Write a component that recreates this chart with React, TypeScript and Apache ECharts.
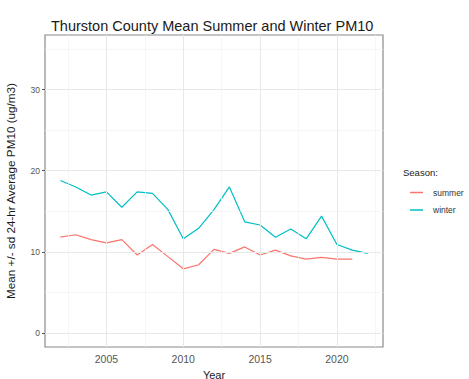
import React, { useEffect, useRef } from "react";
import * as echarts from "echarts";

// Mean seasonal PM10 by year
const winterYears = [2002, 2003, 2004, 2005, 2006, 2007, 2008, 2009, 2010, 2011, 2012, 2013, 2014, 2015, 2016, 2017, 2018, 2019, 2020, 2021, 2022];
const winterPM10 = [18.8, 18.0, 17.0, 17.4, 15.5, 17.4, 17.2, 15.2, 11.6, 12.9, 15.2, 18.0, 13.7, 13.3, 11.8, 12.8, 11.6, 14.4, 10.9, 10.2, 9.8];
const summerYears = [2002, 2003, 2004, 2005, 2006, 2007, 2008, 2009, 2010, 2011, 2012, 2013, 2014, 2015, 2016, 2017, 2018, 2019, 2020, 2021];
const summerPM10 = [11.8, 12.1, 11.5, 11.1, 11.5, 9.6, 10.9, 9.4, 7.9, 8.4, 10.3, 9.8, 10.6, 9.6, 10.2, 9.5, 9.1, 9.3, 9.1, 9.1];

// Axis breaks
const xMajor = [2005, 2010, 2015, 2020];
const xMinor = [2002.5, 2007.5, 2012.5, 2017.5, 2022.5];
const yMajor = [0, 10, 20, 30];
const yMinor = [5, 15, 25, 35];

const SUMMER = "#F8766D";
const WINTER = "#00BFC4";
const FONT = "'Liberation Sans', Arial, sans-serif";

export default function App() {
  const ref = useRef<HTMLDivElement>(null);

  useEffect(() => {
    if (!ref.current) return;
    const chart = echarts.init(ref.current, undefined, { renderer: "svg" });

    const gridLine = (axis: "xAxis" | "yAxis", v: number, major: boolean) => ({
      [axis]: v,
      lineStyle: { color: major ? "#e8e8e8" : "#f2f2f2", width: major ? 1 : 0.7, type: "solid" },
    });

    chart.setOption({
      animation: false,
      textStyle: { fontFamily: FONT },
      title: {
        text: "Thurston County Mean Summer and Winter PM10",
        left: 46,
        top: 13,
        textStyle: { fontSize: 14.5, fontWeight: "normal", color: "#1a1a1a", fontFamily: FONT },
      },
      grid: {
        left: 45,
        top: 35,
        right: 86,
        bottom: 32,
        containLabel: false,
        outerBoundsMode: "none",
        show: true,
        borderColor: "#8a8a8a",
        borderWidth: 1.2,
        backgroundColor: "#fff",
      },
      legend: {
        orient: "vertical",
        left: 405,
        top: 183,
        itemGap: 8.5,
        itemWidth: 13,
        itemHeight: 1.5,
        icon: "rect",
        data: ["summer", "winter"],
        textStyle: { fontSize: 8.5, color: "#333", fontFamily: FONT, padding: [0, 0, 0, 5] },
      },
      graphic: [
        {
          type: "text",
          left: 403,
          top: 167,
          style: { text: "Season:", fontSize: 9.5, fill: "#222", fontFamily: FONT },
        },
      ],
      xAxis: {
        type: "value",
        min: 2001,
        max: 2023,
        name: "Year",
        nameLocation: "middle",
        nameGap: 22,
        nameTextStyle: { fontSize: 11, color: "#1a1a1a" },
        axisLine: { show: false },
        splitLine: { show: false },
        axisTick: { show: true, customValues: xMajor, length: 3, lineStyle: { color: "#555" } },
        axisLabel: {
          customValues: xMajor,
          fontSize: 10.5,
          color: "#555",
          margin: 6,
          formatter: (v: number) => String(v),
        },
      },
      yAxis: {
        type: "value",
        min: -1.75,
        max: 36.75,
        name: "Mean +/- sd 24-hr Average PM10 (ug/m3)",
        nameLocation: "middle",
        nameGap: 29,
        nameTextStyle: { fontSize: 11.7, color: "#1a1a1a" },
        axisLine: { show: false },
        splitLine: { show: false },
        axisTick: { show: true, customValues: yMajor, length: 3, lineStyle: { color: "#555" } },
        axisLabel: { customValues: yMajor, fontSize: 8.5, color: "#555", margin: 5 },
      },
      series: [
        {
          name: "grid",
          type: "line",
          data: [],
          z: 1,
          silent: true,
          markLine: {
            silent: true,
            symbol: ["none", "none"],
            label: { show: false },
            animation: false,
            data: [
              ...xMinor.map((v) => gridLine("xAxis", v, false)),
              ...yMinor.map((v) => gridLine("yAxis", v, false)),
              ...xMajor.map((v) => gridLine("xAxis", v, true)),
              ...yMajor.map((v) => gridLine("yAxis", v, true)),
            ],
          },
        },
        {
          name: "summer",
          type: "line",
          z: 3,
          showSymbol: false,
          symbol: "none",
          lineStyle: { color: SUMMER, width: 1.2 },
          itemStyle: { color: SUMMER },
          data: summerYears.map((y, i) => [y, summerPM10[i]]),
        },
        {
          name: "winter",
          type: "line",
          z: 3,
          showSymbol: false,
          symbol: "none",
          lineStyle: { color: WINTER, width: 1.2 },
          itemStyle: { color: WINTER },
          data: winterYears.map((y, i) => [y, winterPM10[i]]),
        },
      ],
    });

    return () => chart.dispose();
  }, []);

  return <div ref={ref} style={{ width: 469, height: 379, position: "absolute", left: 0, top: 0 }} />;
}
